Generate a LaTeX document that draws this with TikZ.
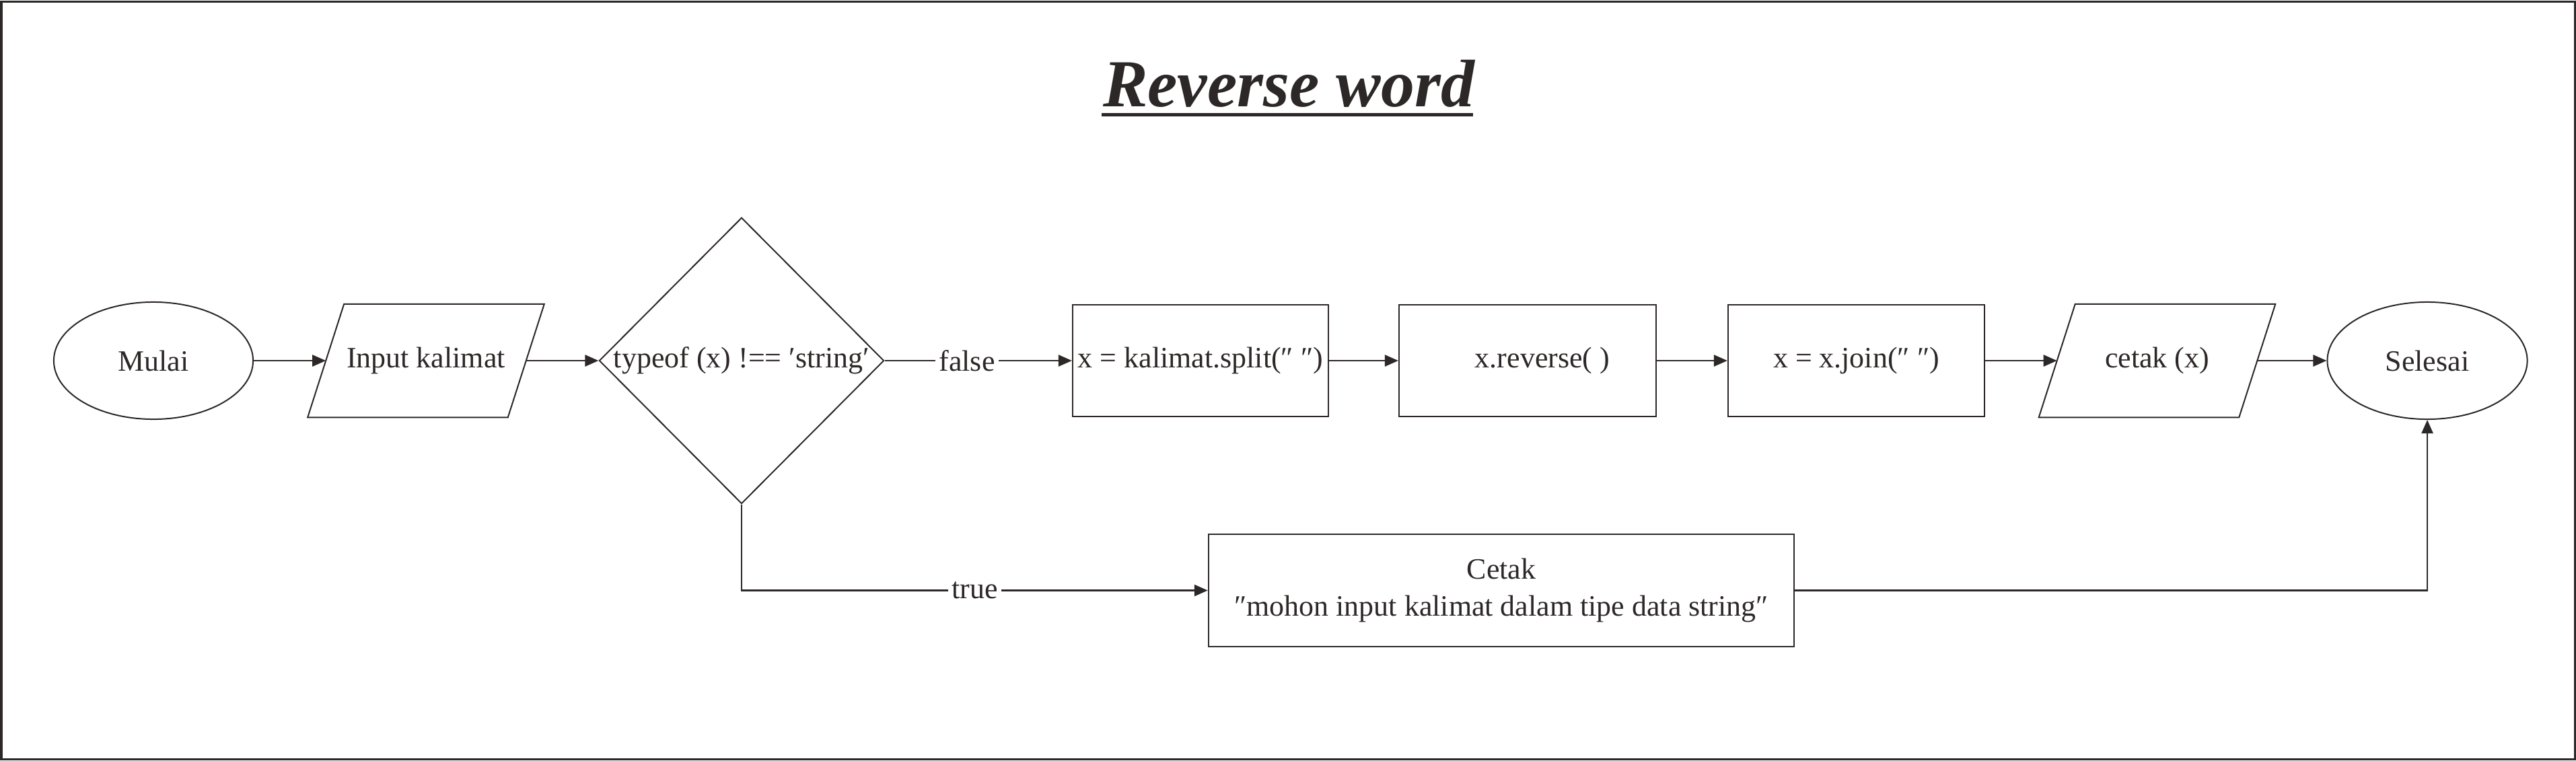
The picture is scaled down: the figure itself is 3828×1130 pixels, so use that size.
\documentclass[tikz,border=0pt]{standalone}
\usepackage{fontspec}
\setmainfont{Liberation Serif}
\usetikzlibrary{shapes.geometric,arrows.meta}
\definecolor{ink}{RGB}{45,40,40}
\begin{document}
\begin{tikzpicture}[x=0.01cm,y=-0.01cm,
  every node/.style={text=ink, font=\fontsize{12.5}{15.6}\selectfont},
  shp/.style={draw=ink, line width=0.02cm, inner sep=0pt},
  term/.style={shp, ellipse, minimum width=2.96cm, minimum height=1.74cm},
  proc/.style={shp, rectangle, minimum height=1.66cm},
  io/.style={rectangle, inner sep=0pt, minimum width=2.96cm, minimum height=1.67cm},
  decision/.style={shp, diamond, minimum width=4.23cm, minimum height=4.25cm},
  conn/.style={draw=ink, line width=0.025cm, -{Triangle[length=0.2cm,width=0.17cm]}},
  lbl/.style={fill=white, inner sep=1.5pt},
  outline/.style={draw=ink, line width=0.02cm, line join=miter},
]
\useasboundingbox (0,0) rectangle (3828,1130);
\draw[ink, line width=0.03cm] (2,2) rectangle (3826,1128);

% title
\node[anchor=base, font=\fontsize{28.4}{34}\selectfont\bfseries\itshape] (title) at (1915,158) {Reverse word};
\draw[ink, line width=0.05cm] (1637,170) -- (2189,170);

% nodes
\node[term] (mulai) at (228,536) {\makebox[0pt]{Mulai}};
\node[io] (input) at (633,536) {Input kalimat};
\draw[outline] ([xshift=0.27cm]input.north west) -- ([xshift=0.27cm]input.north east)
  -- ([xshift=-0.27cm]input.south east) -- ([xshift=-0.27cm]input.south west) -- cycle;
\node[decision] (dec) at (1102,536) {\makebox[0pt]{typeof (x) !== ′string′}};
\node[proc, minimum width=3.80cm] (split) at (1784,536) {x = kalimat.split(″ ″)};
\node[proc, minimum width=3.82cm] (rev) at (2270,536) {\hspace*{0.44cm}x.reverse( )};
\node[proc, minimum width=3.81cm] (join) at (2758.5,536) {x = x.join(″ ″)};
\node[io] (cetak) at (3205.5,536) {cetak (x)};
\draw[outline] ([xshift=0.27cm]cetak.north west) -- ([xshift=0.27cm]cetak.north east)
  -- ([xshift=-0.27cm]cetak.south east) -- ([xshift=-0.27cm]cetak.south west) -- cycle;
\node[term, minimum width=2.97cm] (selesai) at (3607,536) {\makebox[0pt]{Selesai}};
\node[proc, minimum width=8.70cm, minimum height=1.67cm, align=center] (msg) at (2231,877.5)
  {Cetak\\″mohon input kalimat dalam tipe data string″};

% connectors
\draw[conn] (mulai.east) -- (input.west);
\draw[conn] (input.east) -- (dec.west);
\draw[conn] (dec.east) -- node[lbl, pos=0.44] (lfalse) {false} (split.west);
\draw[conn] (split.east) -- (rev.west);
\draw[conn] (rev.east) -- (join.west);
\draw[conn] (join.east) -- (cetak.west);
\draw[conn] (cetak.east) -- (selesai.west);
\draw[conn] (dec.south) |- node[lbl, pos=0.75] (ltrue) {true} (msg.west);
\draw[conn] (msg.east) -| (selesai.south);
\end{tikzpicture}
\end{document}
